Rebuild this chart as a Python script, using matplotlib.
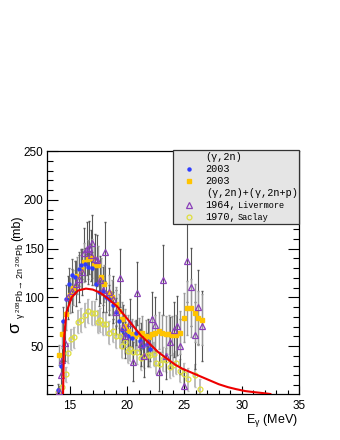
import matplotlib
matplotlib.use("Agg")
import matplotlib.pyplot as plt
from matplotlib.patches import Rectangle
from matplotlib.ticker import MultipleLocator

# 2003 (gamma,2n), blue
blue_e = [14.0, 14.2, 14.4, 14.65, 14.9, 15.15, 15.45, 15.75, 16.0, 16.3, 16.6, 16.9,
          17.25, 17.55, 17.85, 18.15, 18.45, 18.75, 19.0, 19.25, 19.55, 19.85, 20.1,
          20.4, 20.8, 21.1, 21.4, 21.7, 22.0]
blue_s = [5, 30, 76, 98, 114, 123, 121, 129, 133, 134, 131, 130,
          114, 106, 107, 100, 98, 92, 85, 76, 67, 62, 60,
          58, 64, 55, 50, 52, 47]
blue_err = [6, 10, 14, 15, 16, 16, 16, 17, 17, 17, 17, 17,
            16, 15, 15, 15, 15, 14, 14, 14, 13, 13, 13,
            13, 13, 13, 12, 12, 12]

# 2003 (gamma,2n), orange
orange_e = [14.05, 14.35, 14.7, 15.05, 15.3, 15.58, 15.95, 16.25, 16.6, 16.9, 17.1, 17.45,
            17.75, 18.0, 18.4, 18.7, 19.0, 19.3, 19.55, 19.8, 20.1, 20.4, 20.7, 21.0,
            21.25, 21.6, 21.9, 22.15, 22.45, 22.75, 23.05, 23.35, 23.65, 23.95, 24.3,
            24.65, 24.95, 25.25, 25.55, 25.9, 26.2, 26.5]
orange_s = [41, 62, 83, 102, 110, 122, 129, 136, 139, 140, 133, 133,
            121, 114, 105, 100, 93, 86, 78, 71, 66, 62, 60, 62,
            64, 60, 59, 62, 64, 66, 63, 62, 62, 61, 61,
            64, 79, 89, 89, 84, 79, 77]
orange_err = [10, 14, 16, 18, 18, 19, 20, 20, 20, 20, 20, 20,
              19, 19, 18, 18, 18, 17, 17, 17, 16, 16, 16, 17,
              17, 17, 17, 18, 18, 19, 19, 19, 20, 20, 21,
              22, 25, 28, 30, 30, 28, 26]

# 1964 Livermore, (gamma,2n)+(gamma,2n+p)
purple_e = [14.05, 14.2, 14.32, 14.55, 14.85, 15.2, 15.5, 15.8, 16.05, 16.25, 16.5, 16.7,
            16.85, 16.96, 17.15, 17.35, 17.6, 17.85, 18.1, 18.4, 18.75, 19.05, 19.4,
            19.6, 19.85, 20.25, 20.55, 20.9, 21.2, 21.5, 21.85, 22.15, 22.45, 22.8,
            23.1, 23.4, 23.7, 24.05, 24.35, 24.65, 25.0, 25.25, 25.55, 25.9, 26.2, 26.5]
purple_s = [4, 20, 36, 53, 100, 107, 114, 119, 126, 145, 150, 151,
            143, 156, 139, 138, 118, 108, 147, 106, 98, 85, 120,
            70, 60, 74, 34, 104, 52, 40, 54, 78, 72, 24,
            118, 40, 54, 67, 71, 50, 9, 137, 111, 61, 90, 71]
purple_err = [5, 10, 14, 18, 22, 22, 23, 24, 24, 26, 27, 27,
              26, 28, 26, 26, 24, 23, 30, 24, 24, 23, 30,
              22, 22, 24, 20, 32, 22, 22, 24, 28, 28, 20,
              36, 24, 26, 28, 30, 28, 18, 42, 40, 34, 38, 36]

# 1970 Saclay, (gamma,2n)+(gamma,2n+p)
yellow_e = [13.95, 14.3, 14.65, 14.85, 15.1, 15.4, 15.73, 16.0, 16.3, 16.6, 16.9, 17.2,
            17.45, 17.65, 17.9, 18.15, 18.45, 18.75, 19.05, 19.35, 19.55, 19.8, 20.05,
            20.25, 20.55, 20.9, 21.2, 21.5, 21.8, 22.0, 22.3, 22.55, 22.85, 23.1, 23.4,
            23.7, 24.0, 24.3, 24.6, 24.95, 25.3, 25.9, 26.4]
yellow_s = [3, 8, 21, 43, 57, 59, 75, 77, 82, 86, 84, 84,
            75, 77, 73, 73, 64, 66, 60, 60, 50, 54, 45,
            47, 44, 44, 38, 40, 41, 41, 42, 33, 32, 37, 36,
            29, 31, 33, 25, 21, 16, 20, 6]
yellow_err = [4, 6, 8, 10, 11, 11, 12, 12, 12, 12, 12, 12,
              12, 12, 12, 12, 12, 12, 12, 12, 12, 12, 12,
              12, 12, 12, 12, 12, 12, 12, 12, 12, 12, 12, 12,
              12, 12, 12, 12, 12, 12, 12, 10]

# fitted curve
fit_e = [14.4, 14.45, 14.5, 14.7, 15.15, 15.7, 16.4, 17.0, 17.6, 18.3, 19.1, 19.8, 20.5,
         21.2, 22.0, 22.7, 23.5, 24.2, 24.8, 25.6, 26.4, 27.2, 28.0, 28.8, 29.5, 30.3,
         31.0, 31.8, 32.5]
fit_s = [1, 30, 60, 85, 100, 107, 109, 108, 105, 99, 91, 81, 71,
         61, 52, 44, 37, 31, 27, 23, 19, 15, 11, 8, 6, 4,
         3, 2, 1]

plt.rcParams['font.family'] = ['Liberation Sans', 'DejaVu Sans']
plt.rcParams['mathtext.fontset'] = 'custom'
plt.rcParams['mathtext.rm'] = 'Liberation Sans'
plt.rcParams['mathtext.it'] = 'Liberation Sans'

W, H = 340, 440


def fx(px):
    return px / W


def fy(py):
    return 1 - py / H


fig = plt.figure(figsize=(3.4, 4.4), dpi=100)
ax = fig.add_axes([fx(47), fy(394), 252 / W, 243 / H])

# error bars first
ax.errorbar(yellow_e, yellow_s, yerr=yellow_err, fmt='none', ecolor='#bdbdbd',
            elinewidth=1.4, capsize=1, zorder=1)
ax.errorbar(purple_e, purple_s, yerr=purple_err, fmt='none', ecolor='#555555',
            elinewidth=0.8, capsize=1, zorder=1)
ax.errorbar(orange_e, orange_s, yerr=orange_err, fmt='none', ecolor='#999999',
            elinewidth=1.0, capsize=1, zorder=1)
ax.errorbar(blue_e, blue_s, yerr=blue_err, fmt='none', ecolor='#666666',
            elinewidth=0.8, capsize=1, zorder=1)

ax.plot(yellow_e, yellow_s, 'o', ms=3.5, mfc='none', mec='#dede3c', mew=0.9, zorder=3)
ax.plot(orange_e, orange_s, 's', ms=2.3, color='#ffc400', zorder=3)
ax.plot(blue_e, blue_s, 'o', ms=2.2, color='#2f3cff', zorder=3)
ax.plot(purple_e, purple_s, '^', ms=3.8, mfc='none', mec='#8a3fb8', mew=0.9, zorder=3)

ax.plot(fit_e, fit_s, '-', color='#ee0000', lw=1.5, zorder=4)

ax.set_xlim(13, 35)
ax.set_ylim(1, 250)
ax.xaxis.set_major_locator(MultipleLocator(5))
ax.xaxis.set_minor_locator(MultipleLocator(1))
ax.yaxis.set_major_locator(MultipleLocator(50))
ax.yaxis.set_minor_locator(MultipleLocator(10))
ax.tick_params(axis='both', which='both', direction='in', labelsize=8.5,
               right=True, top=False, width=0.8)
ax.tick_params(axis='y', which='major', length=8, pad=2.5)
ax.tick_params(axis='y', which='minor', length=4)
ax.tick_params(axis='x', which='major', length=6, pad=4)
ax.tick_params(axis='x', which='minor', length=3)
for sp in ax.spines.values():
    sp.set_linewidth(0.9)

# axis titles
fig.text(fx(298), fy(420), r'E$_{\gamma}$ (MeV)', ha='right', va='center', fontsize=9)
fig.text(fx(19.5), fy(333), 'σ', rotation=90, rotation_mode='anchor',
         ha='left', va='baseline', fontsize=12.5)
fig.text(fx(24.5), fy(319), r'$\gamma\ ^{208}\mathrm{Pb}\rightarrow 2n\ ^{206}\mathrm{Pb}$',
         rotation=90, rotation_mode='anchor', ha='left', va='baseline', fontsize=6.4)
fig.text(fx(20.5), fy(241), '(mb)', rotation=90, rotation_mode='anchor',
         ha='left', va='baseline', fontsize=9)

# legend box
fig.patches.append(Rectangle((fx(173), fy(224)), 126 / W, 74 / H,
                             transform=fig.transFigure, facecolor='#e5e5e5',
                             edgecolor='#333333', lw=0.9, zorder=5))
mono = ['Liberation Mono', 'DejaVu Sans Mono']
rows = [157, 169, 181, 193, 205, 217]
fig.text(fx(205), fy(rows[0]), '(γ,2n)', family=mono, fontsize=7.3, va='center', zorder=6)
fig.text(fx(205), fy(rows[1]), '2003', family=mono, fontsize=7.3, va='center', zorder=6)
fig.text(fx(205), fy(rows[2]), '2003', family=mono, fontsize=7.3, va='center', zorder=6)
fig.text(fx(206), fy(rows[3]), '(γ,2n)+(γ,2n+p)', family=mono, fontsize=7.3,
         va='center', zorder=6)
fig.text(fx(205), fy(rows[4]), '1964,', family=mono, fontsize=7.3, va='center', zorder=6)
fig.text(fx(238), fy(rows[4]), 'Livermore', family=mono, fontsize=6.2,
         va='center', zorder=6)
fig.text(fx(205), fy(rows[5]), '1970,', family=mono, fontsize=7.3, va='center', zorder=6)
fig.text(fx(238), fy(rows[5]), 'Saclay', family=mono, fontsize=6.2,
         va='center', zorder=6)

mk_x = fx(189)
fig.lines.append(plt.Line2D([mk_x], [fy(rows[1])], marker='o', ms=2.2, color='#2f3cff',
                            transform=fig.transFigure, zorder=6))
fig.lines.append(plt.Line2D([mk_x], [fy(rows[2])], marker='s', ms=2.3, color='#ffc400',
                            transform=fig.transFigure, zorder=6))
fig.lines.append(plt.Line2D([mk_x], [fy(rows[4])], marker='^', ms=3.8, mfc='none',
                            mec='#8a3fb8', mew=0.9, transform=fig.transFigure, zorder=6))
fig.lines.append(plt.Line2D([mk_x], [fy(rows[5])], marker='o', ms=3.5, mfc='none',
                            mec='#dede3c', mew=0.9, transform=fig.transFigure, zorder=6))

fig.savefig('out.png', dpi=100)
